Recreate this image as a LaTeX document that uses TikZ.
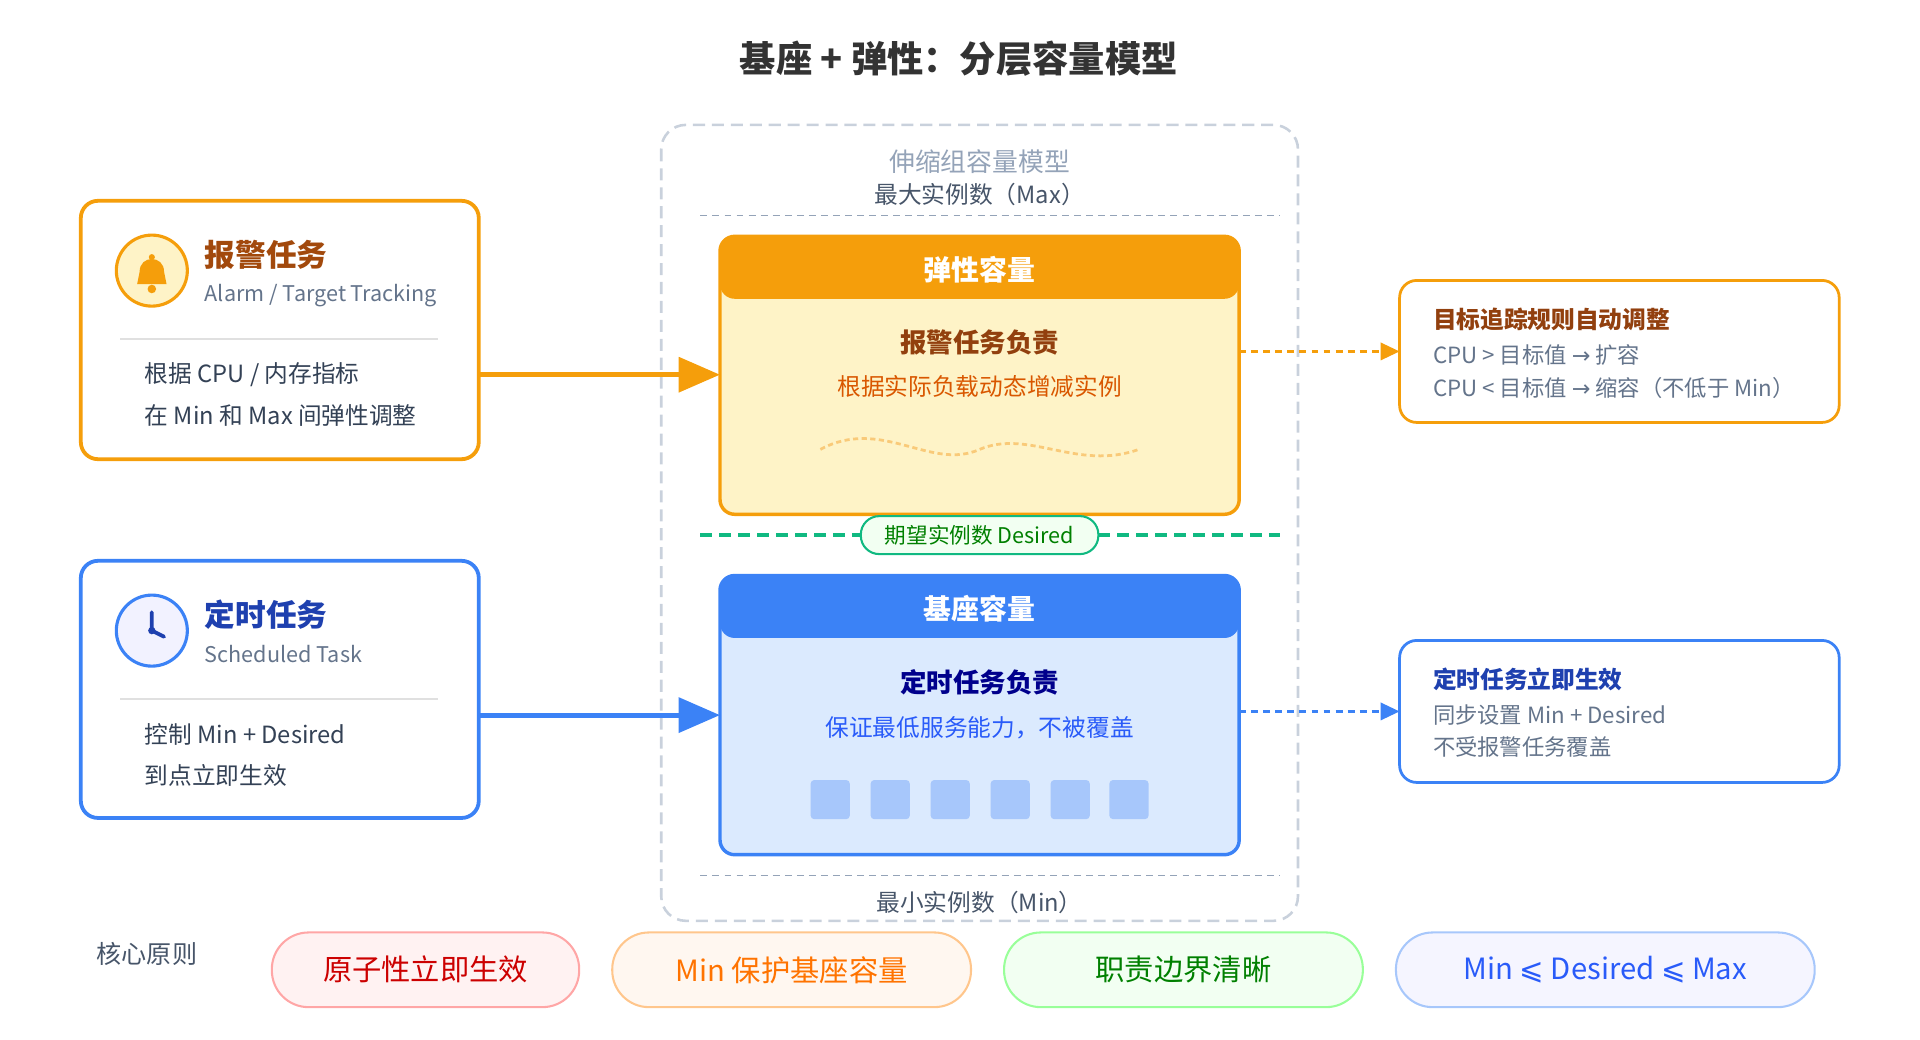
\documentclass[tikz,border=0pt]{standalone}
\usepackage{fontspec}
\setmainfont{Noto Sans CJK SC}
\newfontfamily\dejavu{DejaVu Sans}
\usetikzlibrary{arrows.meta,decorations.pathmorphing}
\definecolor{orA}{HTML}{F59E0B}\definecolor{orL}{HTML}{FEF3C7}
\definecolor{blA}{HTML}{3B82F6}\definecolor{blL}{HTML}{DBEAFE}
\definecolor{grA}{HTML}{10B981}
\definecolor{sl4}{HTML}{94A3B8}\definecolor{sl5}{HTML}{64748B}\definecolor{sl6}{HTML}{475569}\definecolor{sl7}{HTML}{334155}
\definecolor{brn}{HTML}{92400E}\definecolor{dblue}{HTML}{1E40AF}
\newcommand{\fs}[1]{\fontsize{\fpeval{#1*0.81}pt}{\fpeval{#1*0.95}pt}\selectfont}
\tikzset{
 every node/.style={inner sep=0pt},
 card/.style={draw, line width=2.2pt, rounded corners=14*0.025cm, fill=white},
 txt/.style={anchor=west, text=sl7, font=\fs{17}},
 sub/.style={anchor=west, text=sl5, font=\fs{15.5}},
 pill/.style={rounded corners=30*0.025cm, line width=1.2pt, minimum height=61*0.025cm, font=\fs{21}},
 bigarrow/.style={line width=3pt, -{Triangle[length=24pt,width=20pt]}},
 dasharrow/.style={line width=1.6pt, dash pattern=on 4pt off 3pt, -{Triangle[length=11pt,width=10pt]}},
}
\begin{document}
\begin{tikzpicture}[x=0.025cm,y=-0.025cm]
\useasboundingbox (0,0) rectangle (1568,849);
\node[font=\fs{26}\bfseries, text=black!80] (title) at (783,48) {基座 + 弹性：分层容量模型};
% container
\draw[sl4!50, line width=1.5pt, dash pattern=on 7pt off 4pt, rounded corners=20*0.025cm] (540,102) rectangle (1060,752);
\node[text=sl4, font=\fs{18.5}] (grp) at (800,132) {伸缩组容量模型};
\node[text=sl6, font=\fs{17}] (max) at (800,159) {最大实例数（Max）};
\draw[sl4, line width=1pt, dash pattern=on 4pt off 3pt] (572,176) -- (1045,176);
% elastic
\draw[orA, fill=orL, line width=2pt, rounded corners=12*0.025cm] (588,193) rectangle (1012,420);
\fill[orA, rounded corners=12*0.025cm] (588,244) -- (588,193) -- (1012,193) -- (1012,244) -- cycle;
\node[text=white, font=\fs{20}\bfseries] (el) at (800,220) {弹性容量};
\node[text=brn, font=\fs{19}\bfseries] at (800,280) {报警任务负责};
\node[text=orange!80!red!85!black, font=\fs{17}] at (800,316) {根据实际负载动态增减实例};
\draw[orA!55, line width=1.6pt, dash pattern=on 3pt off 2pt] (670,367) .. controls (720,340) and (760,385) .. (800,367) .. controls (840,350) and (880,385) .. (930,367);
% desired
\draw[grA, line width=2pt, dash pattern=on 7pt off 4pt] (572,437) -- (703,437) (897,437) -- (1045,437);
\node[draw=grA, fill=green!5, line width=1.2pt, rounded corners=15*0.025cm, minimum width=194*0.025cm, minimum height=31*0.025cm, text=green!50!black, font=\fs{15.5}] (des) at (800,437) {期望实例数 Desired};
% base
\draw[blA, fill=blL, line width=2pt, rounded corners=12*0.025cm] (588,470) rectangle (1012,698);
\fill[blA, rounded corners=12*0.025cm] (588,521) -- (588,470) -- (1012,470) -- (1012,521) -- cycle;
\node[text=white, font=\fs{20}\bfseries] (bs) at (800,497) {基座容量};
\node[text=blue!55!black, font=\fs{19}\bfseries] at (800,557) {定时任务负责};
\node[text=blA!70!blue, font=\fs{17}] at (800,594) {保证最低服务能力，不被覆盖};
\foreach \x in {678,727,776,825,874,922}
  \fill[blA!45, rounded corners=3*0.025cm] (\x-16,637) rectangle (\x+16,669);
\draw[sl4, line width=1pt, dash pattern=on 4pt off 3pt] (572,715) -- (1045,715);
\node[text=sl6, font=\fs{17}] (min) at (800,737) {最小实例数（Min）};
\coordinate (elin) at (588,306); \coordinate (bsin) at (588,584);
% left top card
\draw[card, draw=orA] (66,164) rectangle (391,375);
\draw[orA, fill=orL, line width=1.8pt] (124,221) circle (29);
\fill[orA] (112,232) -- (114,222) .. controls (114,208) and (134,208) .. (134,222) -- (136,232) -- cycle;
\fill[orA] (124,236) circle (3.5); \fill[orA] (124,210) circle (2.5);
\node[anchor=west, text=brn!85!orange, font=\fs{22}\bfseries] at (167,208) {报警任务};
\node[sub] at (167,241) {Alarm / Target Tracking};
\draw[black!12, line width=1pt] (98,277) -- (358,277);
\node[txt] at (118,306) {根据 CPU / 内存指标};
\node[txt] at (118,339) {在 Min 和 Max 间弹性调整};
\coordinate (alout) at (391,306);
\draw[bigarrow, orA] (alout) -- (elin);
% left bottom card
\draw[card, draw=blA] (66,458) rectangle (391,668);
\draw[blA, fill=blue!5, line width=1.8pt] (124,515) circle (29);
\draw[dblue, line width=2.2pt, line cap=round] (124,515) -- (124,500) (124,515) -- (134,520);
\fill[dblue] (124,515) circle (3);
\node[anchor=west, text=dblue, font=\fs{22}\bfseries] at (167,502) {定时任务};
\node[sub] at (167,534) {Scheduled Task};
\draw[black!12, line width=1pt] (98,571) -- (358,571);
\node[txt] at (118,600) {控制 Min + Desired};
\node[txt] at (118,633) {到点立即生效};
\coordinate (scout) at (391,584);
\draw[bigarrow, blA] (scout) -- (bsin);
% right cards
\draw[card, draw=orA, line width=1.6pt] (1143,229) rectangle (1502,345);
\node[anchor=west, text=brn, font=\fs{17}\bfseries] at (1170,261) {目标追踪规则自动调整};
\node[sub, font=\fs{16}] at (1170,290) {CPU > 目标值 {\dejavu→} 扩容};
\node[sub, font=\fs{16}] at (1170,317) {CPU < 目标值 {\dejavu→} 缩容（不低于 Min）};
\coordinate (elout) at (1012,287); \coordinate (ttin) at (1143,287);
\draw[dasharrow, orA] (elout) -- (ttin);
\draw[card, draw=blA, line width=1.6pt] (1143,523) rectangle (1502,639);
\node[anchor=west, text=dblue, font=\fs{17}\bfseries] at (1170,555) {定时任务立即生效};
\node[sub, font=\fs{16}] at (1170,584) {同步设置 Min + Desired};
\node[sub, font=\fs{16}] at (1170,610) {不受报警任务覆盖};
\coordinate (bsout) at (1012,581); \coordinate (stin) at (1143,581);
\draw[dasharrow, blA] (bsout) -- (stin);
% principles
\node[text=sl6, font=\fs{18}] (core) at (120,779) {核心原则};
\node[pill, draw=red!35, fill=red!5, text=red!80!black, minimum width=251*0.025cm] (p1) at (347.5,792) {原子性立即生效};
\node[pill, draw=orange!45, fill=orange!6, text=orange!90!red, minimum width=293*0.025cm] (p2) at (646.5,792) {Min 保护基座容量};
\node[pill, draw=green!40, fill=green!5, text=green!50!black, minimum width=293*0.025cm] (p3) at (966.5,792) {职责边界清晰};
\node[pill, draw=blA!45, fill=blue!4, text=blA!70!blue, minimum width=342*0.025cm] (p4) at (1311,792) {Min {\dejavu ⩽} Desired {\dejavu ⩽} Max};
\end{tikzpicture}
\end{document}
